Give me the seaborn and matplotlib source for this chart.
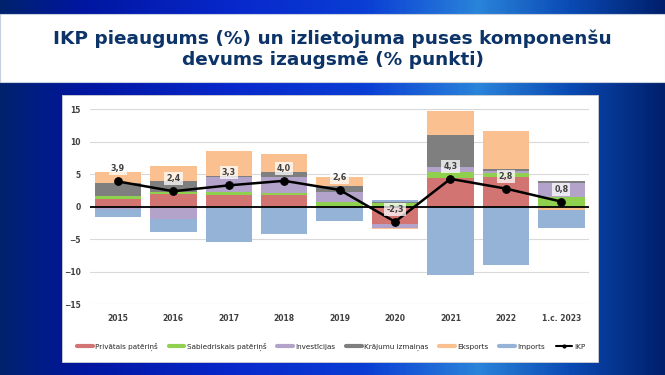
import numpy as np
import pandas as pd
import matplotlib
matplotlib.use("Agg")
import matplotlib.pyplot as plt
from matplotlib.colors import LinearSegmentedColormap
from matplotlib.lines import Line2D
from matplotlib.patches import Rectangle
import seaborn as sns

# Data
categories = ['2015', '2016', '2017', '2018', '2019', '2020', '2021', '2022', '1.c. 2023']
private_cons = [1.2, 2.0, 1.75, 1.8, 0.0, -2.6, 4.5, 4.6, 0.0]
public_cons = [0.45, 0.3, 0.55, 0.3, 0.75, 0.6, 0.8, 0.6, 1.45]
investment = [-0.4, -1.9, 2.3, 2.45, 1.55, -0.6, 0.8, 0.3, 2.15]
inventories = [1.95, 1.65, 0.2, 0.8, 0.9, 0.2, 4.9, 0.25, 0.35]
exports = [1.8, 2.35, 3.8, 2.7, 1.4, -0.2, 3.75, 5.9, -0.5]
imports = [-1.1, -2.05, -5.4, -4.15, -2.15, 0.3, -10.5, -8.9, -2.7]
gdp = [3.9, 2.4, 3.3, 4.0, 2.6, -2.3, 4.3, 2.8, 0.8]

series_names = ['Privātais patēriņš', 'Sabiedriskais patēriņš', 'Investīcijas',
                'Krājumu izmaiņas', 'Eksports', 'Imports']
series_values = [private_cons, public_cons, investment, inventories, exports, imports]
series_colors = ['#D27472', '#8FD14F', '#B3A3CB', '#7F7F7F', '#FAC08F', '#95B3D7']

sns.set_style("white")
plt.rcParams['font.family'] = ['DejaVu Sans']

fig = plt.figure(figsize=(6.65, 3.75), dpi=100)

# slide background: blue gradient + white title band + white chart box
bg = fig.add_axes([0, 0, 1, 1])
bg.set_axis_off()
cmap = LinearSegmentedColormap.from_list('slide', [
    (0.0, '#00226e'), (0.12, '#0016a0'), (0.35, '#0828cc'), (0.55, '#0a3ed4'),
    (0.72, '#2a84da'), (0.86, '#0a4ab4'), (1.0, '#00206c')])
grad = np.tile(np.linspace(0, 1, 300), (60, 1))
bg.imshow(grad, cmap=cmap, extent=(0, 1, 0, 1), aspect='auto', origin='lower')
bg.set_xlim(0, 1)
bg.set_ylim(0, 1)
bg.add_patch(Rectangle((0, 0.7813), 1, 0.1813, facecolor='white', edgecolor='#c8d0e0', lw=0.8))
bg.add_patch(Rectangle((0.0932, 0.0347), 0.806, 0.712, facecolor='white', edgecolor='#d0d0d0', lw=0.6))
bg.text(0.5, 0.896, 'IKP pieaugums (%) un izlietojuma puses komponenšu',
        ha='center', va='center', fontsize=13.3, fontweight='bold', color='#0c3468')
bg.text(0.5, 0.840, 'devums izaugsmē (% punkti)',
        ha='center', va='center', fontsize=13.3, fontweight='bold', color='#0c3468')

ax = fig.add_axes([0.1357, 0.1885, 0.7500, 0.5200])
ax.set_facecolor('white')

# stacked bars, positives and negatives stacked separately
pos_base = np.zeros(len(categories))
neg_base = np.zeros(len(categories))
for name, vals, col in zip(series_names, series_values, series_colors):
    vals = np.array(vals)
    bottom = np.where(vals >= 0, pos_base, neg_base)
    df = pd.DataFrame({'cat': categories, 'val': vals})
    sns.barplot(data=df, x='cat', y='val', color=col, width=0.84, bottom=bottom,
                edgecolor='none', saturation=1, ax=ax, zorder=2)
    pos_base = pos_base + np.where(vals >= 0, vals, 0)
    neg_base = neg_base + np.where(vals < 0, vals, 0)

ax.axhline(0, color='black', lw=1.3, zorder=3)

# GDP line
xs = np.arange(len(categories))
sns.lineplot(x=xs, y=gdp, color='black', lw=1.8, marker='o', markersize=5.5,
             markeredgecolor='black', sort=False, ax=ax, zorder=5)
for x, v in zip(xs, gdp):
    ax.annotate(f'{v:.1f}'.replace('.', ','), (x, v), xytext=(0, 9), textcoords='offset points',
                ha='center', va='center', fontsize=5.8, fontweight='bold', color='#404040',
                bbox=dict(boxstyle='square,pad=0.25', fc='white', ec='none', alpha=0.75), zorder=6)

ax.set_xlim(-0.5, len(categories) - 0.5)
ax.set_ylim(-15, 15)
ax.set_yticks([-15, -10, -5, 0, 5, 10, 15])
ax.yaxis.grid(True, color='#d9d9d9', lw=0.8, zorder=0)
ax.set_axisbelow(True)
for s in ax.spines.values():
    s.set_visible(False)
ax.set_xlabel('')
ax.set_ylabel('')
ax.tick_params(axis='both', length=0, labelsize=5.5, labelcolor='#404040')
ax.tick_params(axis='y', pad=7)
ax.tick_params(axis='x', pad=7)
for lab in ax.get_xticklabels() + ax.get_yticklabels():
    lab.set_fontweight('bold')
if ax.get_legend():
    ax.get_legend().remove()

handles = [Line2D([0], [0], color=c, lw=3) for c in series_colors]
handles.append(Line2D([0], [0], color='black', lw=1.5, marker='o', markersize=2))
fig.legend(handles, series_names + ['IKP'], loc='center', bbox_to_anchor=(0.498, 0.0747),
           ncol=7, frameon=False, fontsize=5.2, handlelength=2.2, handletextpad=0.3,
           columnspacing=1.5)

fig.savefig('out.png', dpi=100)
